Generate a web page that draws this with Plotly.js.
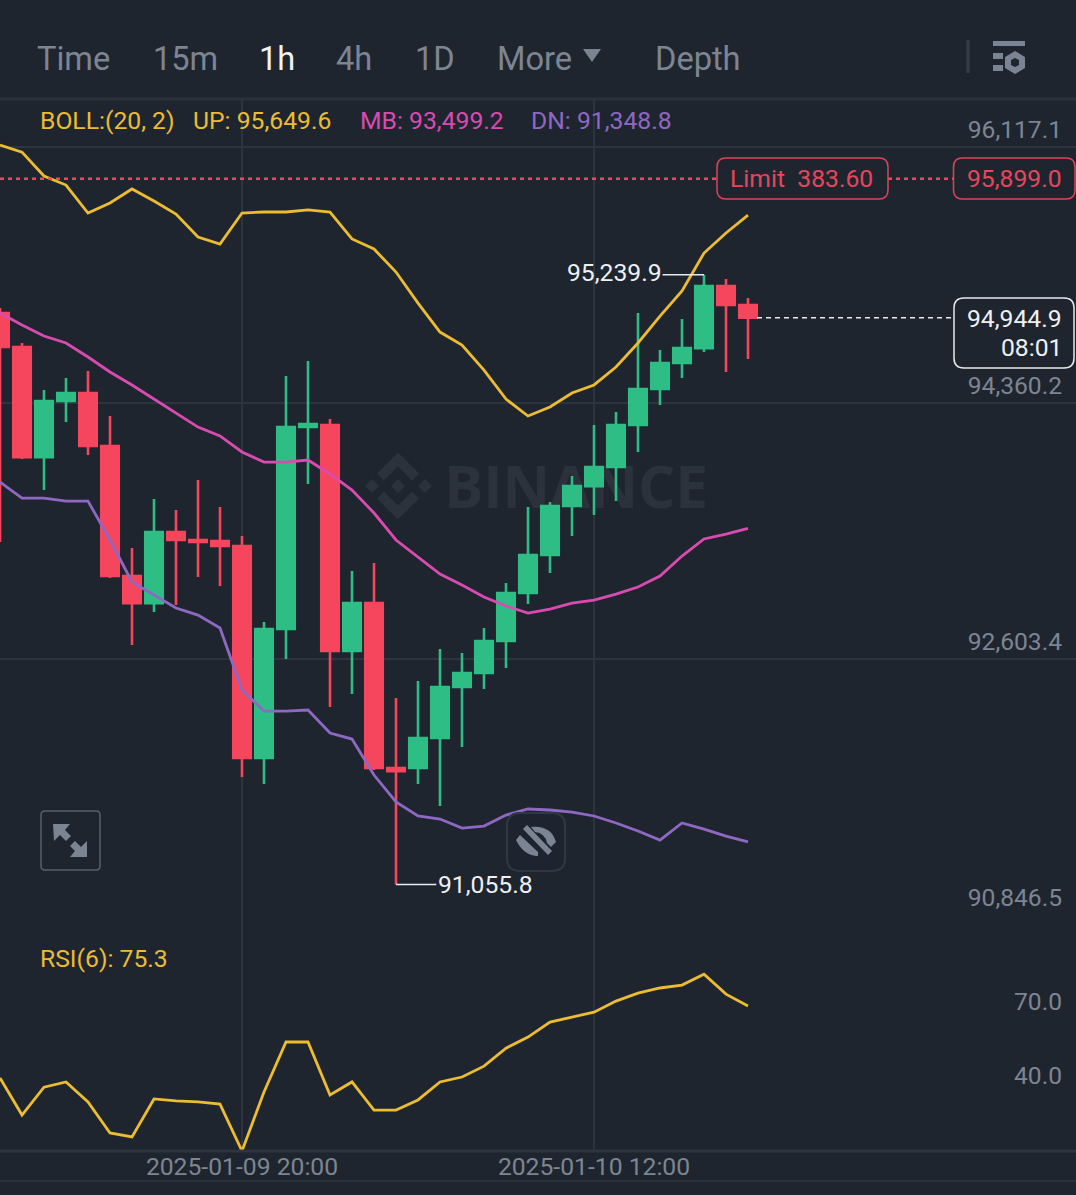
<!DOCTYPE html>
<html><head><meta charset="utf-8">
<script src="https://cdn.plot.ly/plotly-3.0.1.min.js"></script>
<style>html,body{margin:0;padding:0;background:#1f252f}#c{width:1076px;height:1195px}</style>
</head><body><div id="c"></div>
<script>
const times=["2025-01-09 09:00","2025-01-09 10:00","2025-01-09 11:00","2025-01-09 12:00","2025-01-09 13:00","2025-01-09 14:00","2025-01-09 15:00","2025-01-09 16:00","2025-01-09 17:00","2025-01-09 18:00","2025-01-09 19:00","2025-01-09 20:00","2025-01-09 21:00","2025-01-09 22:00","2025-01-09 23:00","2025-01-10 00:00","2025-01-10 01:00","2025-01-10 02:00","2025-01-10 03:00","2025-01-10 04:00","2025-01-10 05:00","2025-01-10 06:00","2025-01-10 07:00","2025-01-10 08:00","2025-01-10 09:00","2025-01-10 10:00","2025-01-10 11:00","2025-01-10 12:00","2025-01-10 13:00","2025-01-10 14:00","2025-01-10 15:00","2025-01-10 16:00","2025-01-10 17:00","2025-01-10 18:00","2025-01-10 19:00"];
const opens=[94978,94744,93989,94374,94429,94065,93173,92987,93475,93420,93413,93379,91924,92809,94195,94209,92658,92987,91855,91855,92061,92411,92507,92727,93056,93317,93653,93790,93921,94209,94456,94635,94737,95163,95033];
const highs=[95012,94772,94449,94532,94580,94271,93365,93701,93626,93832,93646,93447,92857,94545,94648,94250,93207,93262,92335,92452,92672,92644,92816,93125,93646,93681,93859,94209,94298,94978,94724,94936,95239.9,95211,95081];
const lows=[93406,93976,93763,94230,94003,93159,92699,92926,92974,93166,93104,91793,91745,92603,93804,92274,92363,91841,91055.8,91745,91594,92000,92397,92541,92981,93193,93447,93591,93687,94024,94346,94532,94710,94573,94662];
const closes=[94744,93989,94374,94429,94065,93173,92987,93475,93420,93406,93379,91924,92809,94195,94216,92658,92987,91855,91834,92061,92411,92507,92727,93056,93317,93653,93790,93921,94209,94456,94635,94737,95163,95033,94944.9];
const bollUp=[96131,96082,95918,95856,95664,95733,95829,95746,95657,95499,95451,95664,95671,95671,95685,95671,95486,95417,95259,95046,94847,94758,94586,94387,94271,94333,94429,94484,94607,94772,94957,95129,95389,95527,95649.6];
const bollMb=[94978,94895,94820,94772,94676,94573,94484,94387,94291,94195,94134,94024,93955,93955,93969,93873,93763,93605,93420,93303,93186,93111,93029,92967,92919,92946,92987,93008,93049,93097,93173,93310,93427,93461,93499.2];
const bollDn=[93818,93708,93708,93687,93687,93420,93132,93042,92953,92905,92816,92390,92246,92246,92253,92095,92054,91807,91622,91526,91505,91443,91457,91532,91574,91567,91553,91526,91478,91423,91361,91478,91436,91388,91348.8];
const rsi6=[46.1,31.1,42.4,44.5,36.4,23.8,22.2,37.6,36.8,36.4,35.5,16.5,40.4,60.7,60.7,39.2,44.5,33.1,33.1,37.2,44.5,46.5,50.9,58.2,62.7,68.8,70.8,72.8,77.3,80.5,82.6,83.8,88.2,80.1,75.3];
const priceTicks=[96117.1,94360.2,92603.4,90846.5];
const priceTickText=["96,117.1","94,360.2","92,603.4","90,846.5"];
const rsiTicks=[70,40];
const rsiTickText=["70.0","40.0"];
const timeTicks=["2025-01-09 20:00","2025-01-10 12:00"];
const timeTickText=["2025-01-09 20:00","2025-01-10 12:00"];
const tabs=[["Time",34.5],["15m",151],["1h",257],["4h",334],["1D",413],["More",495],["Depth",653]];
const limitPrice=95899.0, lastPrice=94944.9, highPrice=95239.9, lowPrice=91055.8;

const BG="#1f252f",GRID="#2e343f",GRAY="#7d8592",YEL="#ecbc31",MAG="#d94bb0",PUR="#8e68c2",RED="#f6465d",GRN="#2ebd85",WM="#2c323c",ICON="#7a8492";
const W=1076,H=1195,FONT="Roboto, sans-serif",TS=24.7;
const px=x=>x/W, py=y=>1-y/H;
const f=(x,y)=>px(x).toFixed(5)+" "+py(y).toFixed(5);
function poly(pts){return "M"+pts.map(p=>f(p[0],p[1])).join(" L")+" Z";}
function rrect(x0,y0,x1,y1,r){
  return "M"+f(x0+r,y0)+" L"+f(x1-r,y0)+" Q"+f(x1,y0)+" "+f(x1,y0+r)+" L"+f(x1,y1-r)+" Q"+f(x1,y1)+" "+f(x1-r,y1)+" L"+f(x0+r,y1)+" Q"+f(x0,y1)+" "+f(x0,y1-r)+" L"+f(x0,y0+r)+" Q"+f(x0,y0)+" "+f(x0+r,y0)+" Z";
}
function ps(path,fill,line,lw,layer){return {type:"path",xref:"paper",yref:"paper",path,fillcolor:fill||"rgba(0,0,0,0)",line:{color:line||"rgba(0,0,0,0)",width:lw||0},layer:layer||"above"};}
function hline(x0,x1,y,c,w){return {type:"line",xref:"paper",yref:"paper",x0:px(x0),x1:px(x1),y0:py(y),y1:py(y),line:{color:c,width:w},layer:"above"};}
function txt(x,y,t,c,s,anchor){return {xref:"paper",yref:"paper",x:px(x),y:py(y),text:t,showarrow:false,font:{family:FONT,size:s,color:c},xanchor:anchor||"left",yanchor:"middle",align:anchor||"left"};}

const traces=[
 {type:"candlestick",x:times,open:opens,high:highs,low:lows,close:closes,xaxis:"x",yaxis:"y",
  increasing:{line:{color:GRN,width:2.6},fillcolor:GRN},decreasing:{line:{color:RED,width:2.6},fillcolor:RED},whiskerwidth:0,hoverinfo:"skip"},
 {type:"scatter",mode:"lines",x:times,y:bollUp,xaxis:"x",yaxis:"y",line:{color:YEL,width:2.8},hoverinfo:"skip"},
 {type:"scatter",mode:"lines",x:times,y:bollMb,xaxis:"x",yaxis:"y",line:{color:MAG,width:2.8},hoverinfo:"skip"},
 {type:"scatter",mode:"lines",x:times,y:bollDn,xaxis:"x",yaxis:"y",line:{color:PUR,width:2.8},hoverinfo:"skip"},
 {type:"scatter",mode:"lines",x:times,y:rsi6,xaxis:"x",yaxis:"y2",line:{color:YEL,width:2.8},hoverinfo:"skip"}
];

const shapes=[
 ps(poly([[398,479],[405,486],[398,493],[391,486]]),WM,null,0,"below"),
 ps(poly([[372,479],[379,486],[372,493],[365,486]]),WM,null,0,"below"),
 ps(poly([[425,479],[432,486],[425,493],[418,486]]),WM,null,0,"below"),
 ps(poly([[398,452.5],[419,473.5],[412,480.5],[398,466.5],[384,480.5],[377,473.5]]),WM,null,0,"below"),
 ps(poly([[398,519.5],[419,498.5],[412,491.5],[398,505.5],[384,491.5],[377,498.5]]),WM,null,0,"below"),
 {type:"rect",xref:"paper",yref:"paper",x0:px(440),x1:px(712),y0:py(515),y1:py(463),layer:"below",line:{width:0},fillcolor:"rgba(0,0,0,0)",
  label:{text:"<b>BINANCE</b>",font:{family:"Open Sans, sans-serif",size:58.5,color:WM},textposition:"middle center"}},
 hline(0,W,99,"#2b313b",3),
 hline(0,W,1151,"#2f3540",3),
 hline(0,W,1181,"#2b313b",2),
 {type:"line",xref:"paper",yref:"paper",x0:px(968),x1:px(968),y0:py(40),y1:py(73),line:{color:"#353c47",width:3},layer:"above"},
 ps(poly([[583,49],[601,49],[592,62]]),ICON),
 ps(poly([[993,41],[1025,41],[1025,46],[993,46]]),ICON),
 ps(poly([[993,53],[1003,53],[1003,59],[993,59]]),ICON),
 ps(poly([[993,65],[1003,65],[1003,71],[993,71]]),ICON),
 ps(poly([[1015,51],[1025,57],[1025,68],[1015,74],[1005,68],[1005,57]]),ICON),
 ps(poly([[1015,58],[1019,60],[1019,65],[1015,67],[1011,65],[1011,60]]),BG),
 {type:"line",xref:"paper",yref:"y",x0:0,x1:px(717),y0:limitPrice,y1:limitPrice,line:{color:RED,width:2.4,dash:"4px,4px"},layer:"above"},
 {type:"line",xref:"paper",yref:"y",x0:px(888),x1:px(953),y0:limitPrice,y1:limitPrice,line:{color:RED,width:2.4,dash:"4px,4px"},layer:"above"},
 ps(rrect(717,158,888,199,9),BG,"#e0435b",1.5),
 ps(rrect(953.5,158,1075,199,9),BG,"#e0435b",1.5),
 {type:"line",xref:"paper",yref:"y",x0:px(757),x1:px(953),y0:lastPrice,y1:lastPrice,line:{color:"#e8eaed",width:1.5,dash:"5px,4px"},layer:"above"},
 ps(rrect(954,298,1074,368,10),BG,"#e8eaed",1.5),
 {type:"line",xref:"x",yref:"y",x0:"2025-01-10 17:00",x1:"2025-01-10 15:07",y0:highPrice,y1:highPrice,line:{color:"#e8eaed",width:1.5},layer:"above"},
 {type:"line",xref:"x",yref:"y",x0:"2025-01-10 03:00",x1:"2025-01-10 04:50",y0:lowPrice,y1:lowPrice,line:{color:"#e8eaed",width:1.5},layer:"above"},
 ps(rrect(41,811,100,870,4),BG,"#59606c",1.5),
 ps(poly([[53,824],[70,824],[65,830],[71,836],[66,841],[60,835],[54,841]]),ICON),
 ps(poly([[87,857],[70,857],[75,851],[70,846],[75,841],[81,847],[87,841]]),ICON),
 ps(rrect(507,813,565,871,13),"rgba(31,37,47,0.85)","#323843",2),
 ps(poly([[523,829],[527,825],[552,851],[548,855]]),ICON),
 ps("M"+f(531,827)+" Q"+f(551,825)+" "+f(556,842)+" L"+f(551,847)+" L"+f(547,843)+" Q"+f(545,833)+" "+f(535,832)+" Z",ICON),
 ps("M"+f(516,840)+" L"+f(520,835)+" L"+f(538,852)+" L"+f(538,856)+" Q"+f(524,856)+" "+f(516,840)+" Z",ICON)
];

const annotations=[
 ...tabs.map(t=>txt(t[1],59,t[0],t[0]==="1h"?"#f0f1f3":GRAY,32.6)),
 txt(38,120,"BOLL:(20, 2)",YEL,TS),
 txt(191,120,"UP: 95,649.6",YEL,TS),
 txt(358,120,"MB: 93,499.2",MAG,TS),
 txt(529,120,"DN: 91,348.8",PUR,TS),
 txt(38,958,"RSI(6): 75.3",YEL,TS),
 txt(728,178,"Limit&nbsp;&nbsp;383.60","#e8455c",TS),
 txt(965,178,"95,899.0","#e8455c",TS),
 txt(1064,318,"94,944.9","#eef0f2",TS,"right"),
 txt(1064,348,"08:01","#eef0f2",TS,"right"),
 txt(664,273,"95,239.9","#eef0f2",TS,"right"),
 txt(435.5,884,"91,055.8","#eef0f2",TS)
];

const layout={
 width:W,height:H,margin:{l:0,r:0,t:0,b:0},paper_bgcolor:BG,plot_bgcolor:BG,showlegend:false,hovermode:false,boxgap:0.205,boxgroupgap:0,
 font:{family:FONT,color:GRAY},
 xaxis:{type:"date",domain:[0,1],anchor:"y2",range:["2025-01-09 09:00","2025-01-11 09:54:33"],rangeslider:{visible:false},
  tickmode:"array",tickvals:timeTicks,ticktext:timeTickText,showgrid:true,gridcolor:GRID,gridwidth:1.5,ticks:"",ticklen:0,
  tickfont:{family:FONT,size:24.7,color:GRAY},ticklabelstandoff:-2,zeroline:false,showline:false,fixedrange:true},
 yaxis:{domain:[py(915),py(100)],range:[90846.5,96439.6],side:"right",anchor:"x",tickmode:"array",tickvals:priceTicks,ticktext:priceTickText,
  ticklabelposition:"inside top",showgrid:true,gridcolor:GRID,gridwidth:1.5,zeroline:false,showline:false,ticks:"",
  tickfont:{family:FONT,size:24.6,color:GRAY},ticklabelstandoff:11,fixedrange:true},
 yaxis2:{domain:[py(1151),py(915)],range:[16.5,112.2],side:"right",anchor:"x",tickmode:"array",tickvals:rsiTicks,ticktext:rsiTickText,
  ticklabelposition:"inside top",showgrid:false,zeroline:false,showline:false,ticks:"",
  tickfont:{family:FONT,size:24.6,color:GRAY},ticklabelstandoff:11,fixedrange:true},
 shapes,annotations
};
Plotly.newPlot("c",traces,layout,{displayModeBar:false,staticPlot:true});
</script></body></html>
